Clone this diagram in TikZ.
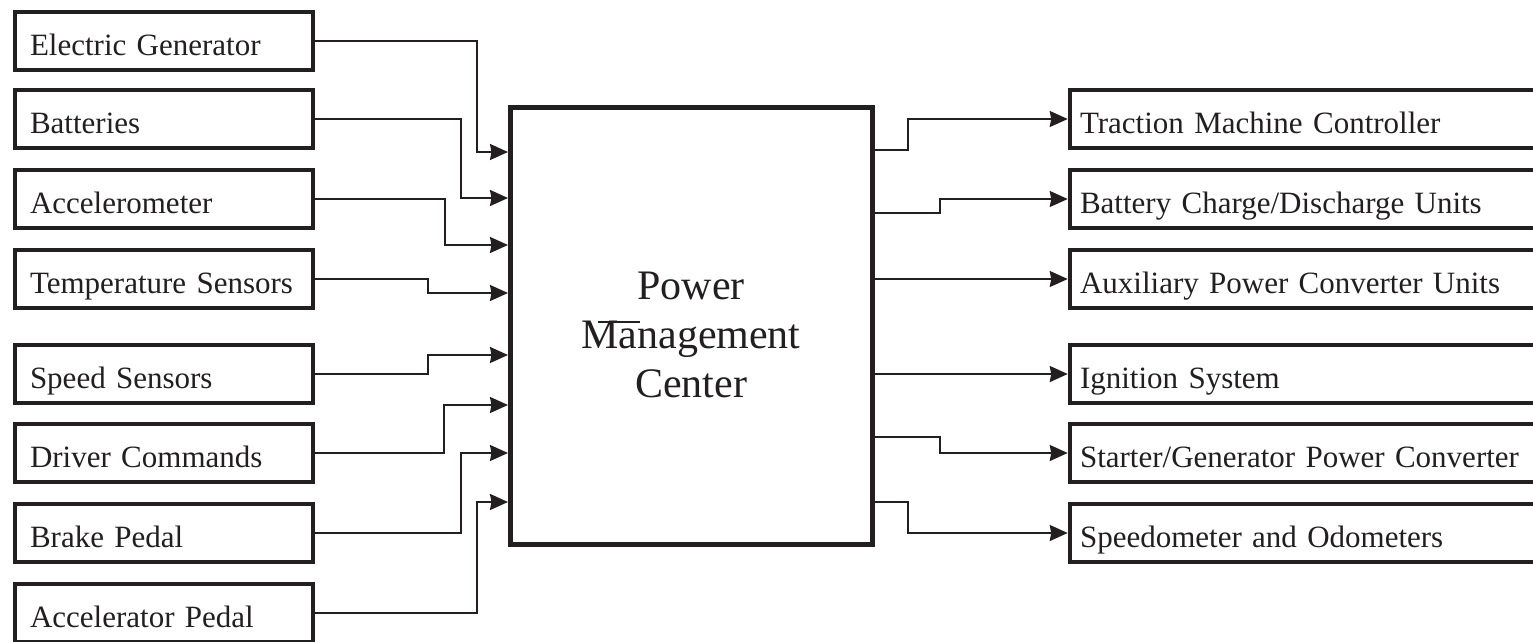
\documentclass[tikz,border=0pt]{standalone}
\usepackage{fontspec}
\setmainfont{Liberation Serif}
\usetikzlibrary{arrows.meta}
\definecolor{ink}{RGB}{35,31,32}
\newcommand\boxfont{\fontsize{31pt}{37pt}\selectfont}
\newcommand\pmcfont{\fontsize{42pt}{49pt}\selectfont}
\begin{document}
\begin{tikzpicture}[x=1pt,y=-1pt,
  lbox/.style={draw=ink, line width=4.5pt, minimum width=298pt, minimum height=58pt,
    text width=268pt, inner xsep=15pt, inner ysep=0pt, align=left,
    text height=32pt, text depth=4pt, font=\boxfont, text=ink},
  rbox/.style={lbox, minimum width=530pt, text width=510pt, inner xsep=10pt},
  conn/.style={draw=ink, line width=2pt},
  arr/.style={conn, -{Stealth[length=18pt,width=16pt,inset=1.5pt]}},
  pmcbox/.style={draw=ink, line width=5pt, minimum width=362pt, minimum height=437pt, inner sep=0pt},
  pmclabel/.style={font=\pmcfont, align=center, text=ink, inner sep=0pt}
]
\fill[white] (0,0) rectangle (1533,641);
\useasboundingbox (0,0) rectangle (1533,641);
\clip (0,0) rectangle (1533,641);

% central box
\node[pmcbox] (pmc) at (691.5,326) {};
\node[pmclabel] (pmctext) at (691,335) {Power\\Management\\Center};
\draw[ink, line width=1.5pt] (598,322) -- (640,322);

% left boxes
\node[lbox] (b1) at (164,41)  {Electric Generator};
\node[lbox] (b2) at (164,119) {Batteries};
\node[lbox] (b3) at (164,199) {Accelerometer};
\node[lbox] (b4) at (164,279) {Temperature Sensors};
\node[lbox] (b5) at (164,374) {Speed Sensors};
\node[lbox] (b6) at (164,453) {Driver Commands};
\node[lbox] (b7) at (164,533) {Brake Pedal};
\node[lbox] (b8) at (164,613) {Accelerator Pedal};

% right boxes
\node[rbox] (r1) at (1335,119) {Traction Machine Controller};
\node[rbox] (r2) at (1335,199) {Battery Charge/Discharge Units};
\node[rbox] (r3) at (1335,279) {Auxiliary Power Converter Units};
\node[rbox] (r4) at (1335,374) {Ignition System};
\node[rbox] (r5) at (1335,453) {Starter/Generator Power Converter};
\node[rbox] (r6) at (1335,533) {Speedometer and Odometers};

% inputs
\draw[arr] (b1.east) -| (477,152) -- (pmc.west |- 0,152);
\draw[arr] (b2.east) -| (461,198) -- (pmc.west |- 0,198);
\draw[arr] (b3.east) -| (445,245) -- (pmc.west |- 0,245);
\draw[arr] (b4.east) -| (428,293) -- (pmc.west |- 0,293);
\draw[arr] (b5.east) -| (428,355) -- (pmc.west |- 0,355);
\draw[arr] (b6.east) -| (444,405) -- (pmc.west |- 0,405);
\draw[arr] (b7.east) -| (461,453) -- (pmc.west |- 0,453);
\draw[arr] (b8.east) -| (477,502) -- (pmc.west |- 0,502);

% outputs
\draw[arr] (pmc.east |- 0,150) -| (908,119) -- (r1.west);
\draw[arr] (pmc.east |- 0,213) -| (940,199) -- (r2.west);
\draw[arr] (pmc.east |- r3.west) -- (r3.west);
\draw[arr] (pmc.east |- r4.west) -- (r4.west);
\draw[arr] (pmc.east |- 0,437) -| (940,453) -- (r5.west);
\draw[arr] (pmc.east |- 0,502) -| (908,533) -- (r6.west);
\end{tikzpicture}
\end{document}
